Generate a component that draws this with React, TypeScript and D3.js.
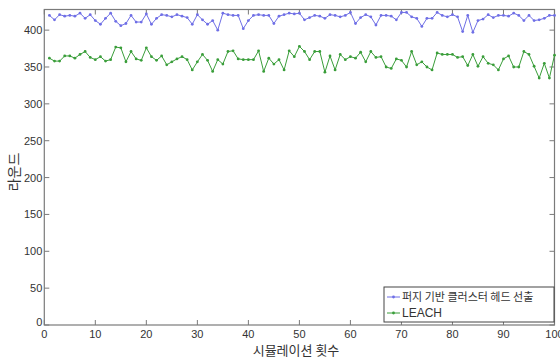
import React, { useEffect, useRef } from 'react';
import * as d3 from 'd3';

// x = simulation run index (1..100)
const runs: number[] = Array.from({ length: 100 }, (_, i) => i + 1);

const fuzzyRounds: number[] = [
  420, 414, 421, 419, 420, 419, 423, 416, 421, 413,
  408, 416, 423, 412, 406, 409, 420, 411, 411, 422,
  408, 416, 421, 420, 418, 421, 419, 417, 408, 421,
  414, 408, 413, 400, 423, 421, 420, 420, 402, 413,
  420, 421, 420, 420, 409, 419, 421, 423, 422, 423,
  414, 417, 420, 419, 416, 421, 420, 418, 420, 424,
  409, 417, 421, 418, 407, 420, 420, 419, 414, 424,
  424, 418, 416, 405, 416, 416, 424, 420, 418, 421,
  418, 398, 420, 397, 413, 415, 421, 417, 420, 420,
  419, 423, 420, 413, 420, 413, 414, 416, 420, 420,
];

const leachRounds: number[] = [
  362, 358, 358, 365, 365, 362, 367, 371, 363, 360,
  364, 358, 360, 377, 376, 357, 371, 361, 359, 376,
  364, 359, 365, 353, 357, 361, 364, 360, 346, 357,
  367, 359, 344, 360, 354, 371, 372, 361, 360, 360,
  360, 372, 344, 362, 354, 360, 346, 372, 364, 378,
  371, 360, 371, 371, 343, 365, 346, 367, 360, 364,
  362, 370, 357, 371, 363, 364, 350, 348, 361, 359,
  350, 371, 353, 357, 350, 346, 369, 367, 367, 367,
  363, 364, 352, 367, 351, 364, 355, 353, 346, 361,
  365, 350, 350, 371, 367, 351, 335, 355, 335, 366,
];

const seriesNames = ['퍼지 기반 클러스터 헤드 선출', 'LEACH'];
const seriesColors = ['#6f6fe6', '#3a9e3a'];
const xTicks = [0, 10, 20, 30, 40, 50, 60, 70, 80, 90, 100];
const yTicks = [0, 50, 100, 150, 200, 250, 300, 350, 400];

const W = 560;
const H = 358;
const numFont = '"Liberation Sans", Arial, sans-serif';
const krFont = '"Noto Sans CJK KR", "Noto Sans", sans-serif';

const RoundsChart: React.FC = () => {
  const svgRef = useRef<SVGSVGElement>(null);

  useEffect(() => {
    if (!svgRef.current) return;
    const svg = d3.select(svgRef.current);
    svg.selectAll('*').remove();

    const left = 44.3, right = 554.5, top = 9.5, bottom = 325;
    const x = d3.scaleLinear().domain([0, 100]).range([left, right]);
    const y = d3.scaleLinear().domain([0, 428]).range([bottom, top]);

    svg.append('rect').attr('width', W).attr('height', H).attr('fill', '#fff');

    // box
    svg.append('rect')
      .attr('x', left).attr('y', top)
      .attr('width', right - left).attr('height', bottom - top)
      .attr('fill', 'none').attr('stroke', '#7a7a7a').attr('stroke-width', 1.2);

    const tickLen = 5;
    const g = svg.append('g').attr('stroke', '#7a7a7a').attr('stroke-width', 1);
    xTicks.forEach(t => {
      g.append('line').attr('x1', x(t)).attr('x2', x(t)).attr('y1', bottom).attr('y2', bottom - tickLen);
      g.append('line').attr('x1', x(t)).attr('x2', x(t)).attr('y1', top).attr('y2', top + tickLen);
    });
    yTicks.forEach(t => {
      g.append('line').attr('x1', left).attr('x2', left + tickLen).attr('y1', y(t)).attr('y2', y(t));
      g.append('line').attr('x1', right).attr('x2', right - tickLen).attr('y1', y(t)).attr('y2', y(t));
    });

    // tick labels
    svg.append('g').selectAll('text').data(xTicks).enter().append('text')
      .attr('x', d => x(d)).attr('y', bottom + 13)
      .attr('text-anchor', 'middle')
      .style('font-family', numFont).style('font-size', '11px').style('fill', '#333')
      .text(d => d);
    svg.append('g').selectAll('text').data(yTicks).enter().append('text')
      .attr('x', left - 2).attr('y', d => y(d) + (d === 0 ? 1 : 4))
      .attr('text-anchor', 'end')
      .style('font-family', numFont).style('font-size', '11px').style('fill', '#333')
      .text(d => d);

    // axis titles
    svg.append('text')
      .attr('x', 296).attr('y', 355)
      .attr('text-anchor', 'middle')
      .style('font-family', krFont).style('font-size', '13px').style('fill', '#333')
      .text('시뮬레이션 횟수');
    svg.append('text')
      .attr('transform', `translate(19,172) rotate(-90)`)
      .attr('text-anchor', 'middle')
      .style('font-family', krFont).style('font-size', '14px').style('fill', '#333')
      .text('라운드');

    // series
    [fuzzyRounds, leachRounds].forEach((vals, si) => {
      const pts = runs.map((r, i) => [r, vals[i]] as [number, number]);
      const line = d3.line<[number, number]>().x(d => x(d[0])).y(d => y(d[1]));
      svg.append('path')
        .datum(pts)
        .attr('fill', 'none')
        .attr('stroke', seriesColors[si])
        .attr('stroke-width', 1)
        .attr('d', line);
      svg.append('g').selectAll('circle').data(pts).enter().append('circle')
        .attr('cx', d => x(d[0])).attr('cy', d => y(d[1]))
        .attr('r', 1.4)
        .attr('fill', seriesColors[si]);
    });

    // legend
    const lg = svg.append('g');
    lg.append('rect')
      .attr('x', 384).attr('y', 287).attr('width', 170).attr('height', 35)
      .attr('fill', '#fff').attr('stroke', '#444').attr('stroke-width', 1);
    seriesNames.forEach((name, i) => {
      const ly = 297 + i * 16;
      lg.append('line')
        .attr('x1', 387).attr('x2', 400).attr('y1', ly).attr('y2', ly)
        .attr('stroke', seriesColors[i]).attr('stroke-width', 1);
      lg.append('circle').attr('cx', 393.5).attr('cy', ly).attr('r', 1.4).attr('fill', seriesColors[i]);
      lg.append('text')
        .attr('x', 402).attr('y', ly + 4)
        .style('font-family', i === 0 ? krFont : numFont)
        .style('font-size', i === 0 ? '11px' : '12px')
        .style('fill', '#333')
        .text(name);
    });
  }, []);

  return <svg ref={svgRef} width={W} height={H} style={{ display: 'block' }}></svg>;
};

export default function App() {
  return (
    <div style={{ position: 'fixed', left: 0, top: 0, width: W, height: H, background: '#fff' }}>
      <RoundsChart />
    </div>
  );
}
